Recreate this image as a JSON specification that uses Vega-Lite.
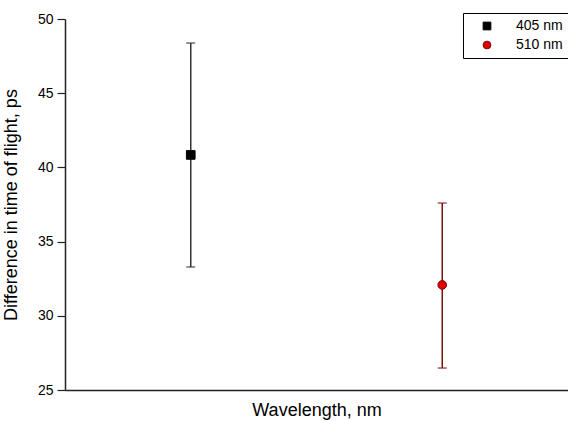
{
  "$schema": "https://vega.github.io/schema/vega-lite/v6.json",
  "autosize": {"type": "none"},
  "padding": {"left": 65, "top": 19, "right": 0, "bottom": 31},
  "width": 503,
  "height": 371,
  "background": "white",
  "config": {
    "view": {"stroke": null},
    "font": "Liberation Sans",
    "legend": {"title": null, "orient": "none", "legendX": 398, "legendY": -6, "strokeColor": "black", "fillColor": "white",
      "padding": 6, "symbolOffset": 11, "labelFontSize": 14, "labelColor": "black", "symbolSize": 60, "rowPadding": 5, "labelOffset": 22,
      "symbolStrokeWidth": 1, "symbolOpacity": 1}
  },
  "data": {
    "values": [
      {"series": "405 nm", "wavelength": 405, "dt": 40.84, "lo": 33.29, "hi": 48.38},
      {"series": "510 nm", "wavelength": 510, "dt": 32.08, "lo": 26.48, "hi": 37.6}
    ]
  },
  "layer": [
    {
      "mark": {"type": "rule", "strokeWidth": 1.5},
      "encoding": {
        "x": {"field": "wavelength", "type": "quantitative", "scale": {"domain": [352.5, 562.5], "padding": 0, "nice": false, "zero": false},
          "axis": {"title": "Wavelength, nm", "ticks": false, "labels": false, "grid": false, "domainColor": "#222222", "domainWidth": 1.5, "titleFontSize": 18, "titleFontWeight": "normal", "titleColor": "black", "titlePadding": 11}},
        "y": {"field": "lo", "type": "quantitative", "scale": {"domain": [25, 50], "padding": 0, "nice": false, "zero": false},
          "axis": {"title": "Difference in time of flight, ps", "values": [25, 27.5, 30, 32.5, 35, 37.5, 40, 42.5, 45, 47.5, 50],
            "labelExpr": "datum.value % 5 === 0 ? datum.label : ''",
            "tickSize": {"condition": {"test": "datum.value % 5 === 0", "value": 8}, "value": 4},
            "grid": false, "domainColor": "#222222", "domainWidth": 1.5, "tickColor": "#222222", "tickWidth": 1.2,
            "labelFontSize": 14, "labelColor": "black", "labelPadding": 4,
            "titleFontSize": 18, "titleFontWeight": "normal", "titleColor": "black", "titlePadding": 17}},
        "y2": {"field": "hi"},
        "color": {"field": "series", "type": "nominal", "scale": {"range": ["#333333", "#7a1010"]}, "legend": null}
      }
    },
    {
      "mark": {"type": "tick", "orient": "horizontal", "size": 9, "thickness": 1.5},
      "encoding": {
        "x": {"field": "wavelength", "type": "quantitative"},
        "y": {"field": "lo", "type": "quantitative"},
        "color": {"field": "series", "type": "nominal", "legend": null}
      }
    },
    {
      "mark": {"type": "tick", "orient": "horizontal", "size": 9, "thickness": 1.5},
      "encoding": {
        "x": {"field": "wavelength", "type": "quantitative"},
        "y": {"field": "hi", "type": "quantitative"},
        "color": {"field": "series", "type": "nominal", "legend": null}
      }
    },
    {
      "mark": {"type": "point", "filled": true, "opacity": 1, "strokeWidth": 1},
      "encoding": {
        "x": {"field": "wavelength", "type": "quantitative"},
        "y": {"field": "dt", "type": "quantitative"},
        "shape": {"field": "series", "type": "nominal", "scale": {"domain": ["405 nm", "510 nm"], "range": ["square", "circle"]}},
        "fill": {"field": "series", "type": "nominal", "scale": {"domain": ["405 nm", "510 nm"], "range": ["#000000", "#e00000"]}},
        "stroke": {"field": "series", "type": "nominal", "scale": {"domain": ["405 nm", "510 nm"], "range": ["#000000", "#800000"]}},
        "size": {"value": 75}
      }
    }
  ]
}
